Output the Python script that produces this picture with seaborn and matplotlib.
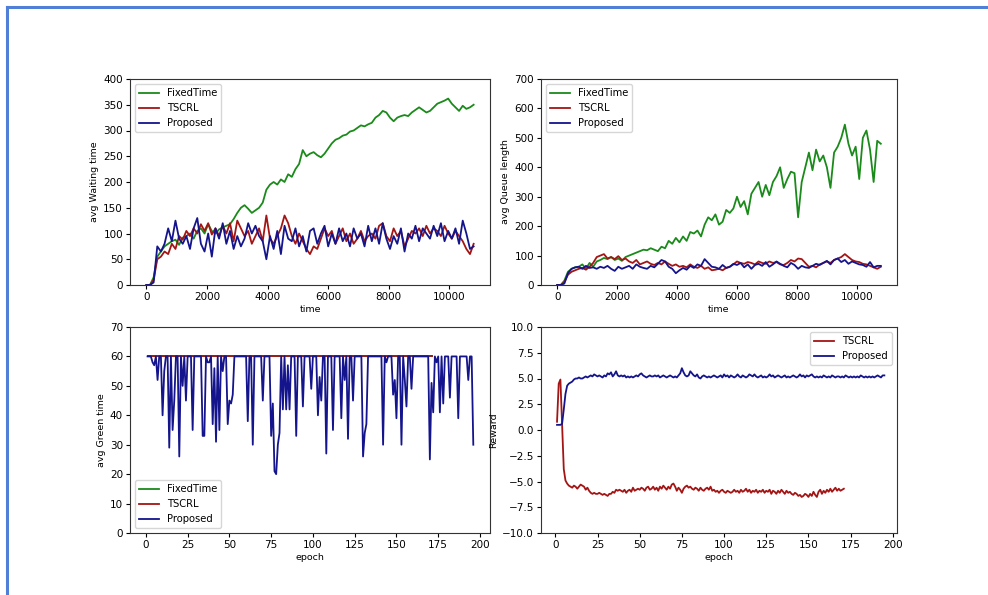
import numpy as np
import pandas as pd
import matplotlib
matplotlib.use("Agg")
import matplotlib.pyplot as plt
from matplotlib.lines import Line2D
import seaborn as sns

# ---------------- data ----------------
time_step = 120
time = np.arange(0, 10801, time_step)

wait_fixed = [0, 0, 15, 55, 65, 75, 80, 85, 88, 78,
              92, 95, 100, 90, 105, 110, 100, 118, 105, 100,
              108, 112, 115, 118, 128, 140, 150, 155, 148, 140,
              145, 150, 160, 185, 195, 200, 195, 205, 200, 215,
              210, 225, 235, 262, 250, 255, 258, 252, 248, 255,
              265, 275, 282, 285, 290, 292, 298, 300, 305, 310,
              308, 312, 315, 325, 330, 338, 335, 325, 318, 325,
              328, 330, 328, 335, 340, 345, 340, 335, 338, 345,
              352, 355, 358, 362, 352, 345, 338, 348, 342, 345, 350]
wait_tscrl = [0, 0, 10, 50, 55, 65, 60, 80, 70, 95,
              88, 105, 95, 110, 100, 118, 105, 120, 98, 110,
              95, 115, 100, 120, 85, 125, 110, 95, 105, 80,
              95, 110, 85, 135, 90, 80, 95, 110, 135, 120,
              95, 80, 100, 85, 70, 60, 75, 70, 90, 110,
              95, 105, 80, 95, 110, 85, 100, 80, 90, 105,
              85, 95, 100, 90, 115, 120, 95, 85, 110, 95,
              105, 75, 90, 105, 100, 110, 95, 115, 100, 110,
              105, 95, 115, 100, 90, 105, 95, 85, 70, 60, 80]
wait_prop = [0, 0, 5, 75, 65, 80, 110, 85, 125, 90,
             80, 95, 70, 110, 130, 80, 65, 100, 55, 110,
             90, 120, 80, 105, 70, 95, 75, 90, 120, 100,
             115, 95, 85, 50, 95, 70, 105, 60, 115, 90,
             85, 110, 75, 95, 65, 105, 110, 80, 100, 115,
             75, 100, 80, 110, 85, 100, 75, 110, 90, 100,
             75, 115, 85, 110, 80, 120, 90, 70, 95, 80,
             110, 65, 100, 90, 115, 85, 110, 100, 90, 115,
             95, 120, 85, 105, 90, 110, 80, 125, 100, 70, 75]

queue_fixed = [0, 0, 15, 45, 55, 60, 62, 70, 55, 75,
               62, 80, 85, 92, 88, 95, 85, 90, 82, 95,
               100, 105, 110, 115, 120, 118, 125, 120, 115, 130,
               125, 150, 140, 160, 145, 165, 150, 180, 175, 185,
               165, 205, 230, 220, 240, 205, 215, 255, 245, 260,
               300, 265, 285, 240, 310, 330, 350, 300, 340, 305,
               350, 370, 400, 330, 360, 385, 380, 230, 350, 400,
               450, 390, 460, 420, 440, 400, 330, 450, 470, 500,
               545, 480, 440, 470, 360, 500, 525, 460, 350, 490, 480]
queue_tscrl = [0, 0, 10, 35, 45, 50, 55, 58, 52, 62,
               75, 95, 100, 105, 90, 95, 88, 98, 85, 90,
               80, 75, 85, 70, 75, 80, 72, 68, 75, 70,
               80, 72, 65, 70, 62, 65, 60, 70, 62, 58,
               65, 55, 60, 50, 52, 55, 50, 58, 62, 70,
               80, 75, 72, 78, 75, 70, 80, 75, 72, 80,
               75, 78, 70, 68, 75, 85, 80, 90, 88, 75,
               62, 65, 60, 70, 75, 80, 75, 85, 90, 95,
               105, 95, 85, 80, 78, 72, 70, 65, 60, 55, 62]
queue_prop = [0, 0, 5, 40, 55, 60, 62, 55, 65, 58,
              60, 55, 62, 58, 65, 55, 48, 62, 55, 60,
              65, 55, 70, 62, 58, 55, 65, 60, 72, 85,
              80, 62, 55, 40, 50, 58, 52, 65, 58, 70,
              65, 88, 75, 62, 60, 55, 68, 58, 62, 72,
              68, 75, 60, 70, 55, 68, 72, 65, 78, 62,
              70, 80, 72, 65, 60, 75, 68, 55, 65, 60,
              58, 65, 72, 68, 75, 82, 70, 85, 90, 78,
              85, 72, 80, 75, 70, 68, 62, 78, 60, 65, 65]

green_prop = [60, 60, 60, 58, 57, 60, 52, 60, 60, 40,
              55, 60, 60, 29, 60, 35, 45, 60, 60, 26,
              60, 50, 60, 45, 60, 60, 60, 35, 60, 60,
              60, 60, 60, 33, 33, 60, 58, 58, 60, 37,
              56, 31, 60, 35, 60, 55, 60, 60, 37, 45,
              44, 47, 60, 60, 60, 60, 60, 60, 60, 60,
              38, 60, 60, 30, 60, 60, 60, 60, 60, 45,
              60, 60, 60, 60, 33, 44, 21, 20, 30, 34,
              60, 42, 60, 42, 57, 42, 60, 60, 60, 33,
              60, 60, 60, 43, 60, 60, 60, 60, 49, 60,
              60, 60, 40, 53, 45, 60, 60, 27, 60, 60,
              60, 35, 60, 60, 60, 60, 39, 60, 52, 60,
              32, 60, 60, 45, 60, 60, 60, 60, 60, 26,
              34, 37, 60, 60, 60, 60, 60, 60, 60, 60,
              60, 30, 60, 58, 60, 60, 60, 47, 52, 39,
              60, 60, 30, 60, 52, 43, 60, 60, 49, 60,
              60, 60, 60, 60, 60, 60, 60, 60, 60, 25,
              51, 41, 60, 58, 60, 41, 60, 44, 60, 60,
              60, 46, 60, 60, 60, 60, 39, 60, 60, 60,
              60, 60, 52, 60, 60, 30]
green_tscrl = [60.0] * 171
green_fixed = [60.0] * 171

reward_tscrl = [0.8, 4.5, 4.9, 0.5, -3.8, -4.9, -5.2, -5.4, -5.5, -5.6,
                -5.4, -5.5, -5.7, -5.5, -5.3, -5.4, -5.5, -5.8, -5.6, -5.9,
                -6.1, -6.2, -6.1, -6.2, -6.2, -6.1, -6.2, -6.3, -6.2, -6.3,
                -6.4, -6.2, -6.2, -6.0, -6.1, -5.8, -5.9, -5.8, -5.9, -6.0,
                -5.8, -6.1, -5.9, -5.8, -6.0, -5.6, -5.9, -5.8, -5.7, -5.8,
                -5.6, -5.7, -5.9, -5.6, -5.5, -5.8, -5.7, -5.5, -5.8, -5.6,
                -5.9, -5.5, -5.7, -5.4, -5.6, -5.8, -5.5, -5.7, -5.3, -5.2,
                -5.5, -5.9, -5.6, -5.8, -6.1, -5.7, -5.5, -5.4, -5.6, -5.5,
                -5.7, -5.8, -5.6, -5.7, -5.9, -5.6, -5.8, -5.9, -5.7, -5.6,
                -5.8, -5.5, -5.9, -5.8, -6.0, -5.9, -6.1, -5.9, -5.8, -6.0,
                -6.1, -5.9, -6.0, -6.1, -6.0, -5.8, -6.0, -5.9, -6.1, -5.8,
                -6.0, -5.9, -5.7, -6.0, -5.8, -6.1, -5.9, -6.0, -5.8, -6.1,
                -5.9, -6.0, -5.8, -6.1, -5.9, -6.0, -5.8, -6.2, -5.9, -6.0,
                -6.2, -5.9, -6.1, -5.8, -6.0, -6.2, -5.9, -6.1, -6.0, -6.2,
                -6.3, -6.1, -6.2, -6.4, -6.3, -6.5, -6.4, -6.2, -6.3, -6.5,
                -6.2, -6.4, -6.0, -6.3, -6.5, -6.0, -5.8, -6.2, -5.9, -6.1,
                -5.8, -6.0, -5.7, -6.0, -5.8, -5.6, -5.9, -5.7, -5.9, -5.8,
                -5.7]
reward_prop = [0.5, 0.5, 0.5, 0.6, 2.0, 3.5, 4.3, 4.5, 4.6, 4.7,
               4.9, 5.0, 5.0, 5.1, 5.0, 5.0, 5.1, 5.2, 5.1, 5.2,
               5.3, 5.2, 5.4, 5.3, 5.2, 5.3, 5.2, 5.1, 5.3, 5.2,
               5.5, 5.4, 5.6, 5.2, 5.4, 5.7, 5.3, 5.2, 5.3, 5.2,
               5.3, 5.1, 5.2, 5.1, 5.2, 5.1, 5.2, 5.3, 5.2, 5.4,
               5.5, 5.3, 5.2, 5.1, 5.2, 5.3, 5.2, 5.2, 5.3, 5.2,
               5.3, 5.1, 5.2, 5.3, 5.2, 5.1, 5.2, 5.3, 5.2, 5.1,
               5.2, 5.1, 5.3, 5.5, 6.0, 5.6, 5.3, 5.2, 5.3, 5.7,
               5.5, 5.3, 5.2, 5.4, 5.1, 5.0, 5.2, 5.3, 5.2, 5.1,
               5.2, 5.1, 5.2, 5.3, 5.2, 5.1, 5.2, 5.3, 5.1, 5.4,
               5.2, 5.3, 5.1, 5.3, 5.2, 5.1, 5.2, 5.4, 5.2, 5.1,
               5.3, 5.2, 5.1, 5.2, 5.4, 5.3, 5.2, 5.4, 5.2, 5.1,
               5.2, 5.3, 5.1, 5.2, 5.1, 5.2, 5.4, 5.2, 5.3, 5.1,
               5.2, 5.3, 5.2, 5.1, 5.2, 5.3, 5.1, 5.2, 5.1, 5.2,
               5.3, 5.2, 5.1, 5.2, 5.4, 5.2, 5.3, 5.1, 5.3, 5.2,
               5.3, 5.4, 5.2, 5.1, 5.2, 5.1, 5.2, 5.1, 5.3, 5.2,
               5.1, 5.2, 5.1, 5.3, 5.2, 5.1, 5.2, 5.2, 5.1, 5.2,
               5.1, 5.3, 5.2, 5.1, 5.2, 5.1, 5.2, 5.1, 5.2, 5.1,
               5.3, 5.2, 5.1, 5.2, 5.1, 5.2, 5.1, 5.2, 5.1, 5.2,
               5.3, 5.2, 5.1, 5.3, 5.3]

labels = ["FixedTime", "TSCRL", "Proposed"]
colors = {"FixedTime": "#1a8a1a", "TSCRL": "#a31515", "Proposed": "#14148c"}

# ---------------- figure ----------------
plt.rcParams['font.family'] = ['DejaVu Sans']
fig = plt.figure(figsize=(9.88, 5.95), dpi=100)
W, H = 988, 595

def axes_px(x0, y0, x1, y1):
    return fig.add_axes([x0 / W, 1 - y1 / H, (x1 - x0) / W, (y1 - y0) / H])

ax_tl = axes_px(130, 79, 490, 285)
ax_tr = axes_px(541, 79, 897, 285)
ax_bl = axes_px(130, 327, 490, 533)
ax_br = axes_px(541, 327, 897, 533)

LW = 1.3
TICK_FS = 7.5
LAB_FS = 6.8
LEG_FS = 7.2

def draw(ax, x, series, names):
    for vals, name in zip(series, names):
        n = len(vals)
        sns.lineplot(x=np.asarray(x)[:n], y=vals, ax=ax, color=colors[name],
                     label=name, linewidth=LW)

draw(ax_tl, time, [wait_fixed, wait_tscrl, wait_prop], labels)
draw(ax_tr, time, [queue_fixed, queue_tscrl, queue_prop], labels)

ep_fixed = np.arange(1, len(green_fixed) + 1)
ep_tscrl = np.arange(1, len(green_tscrl) + 1)
ep_prop = np.arange(1, len(green_prop) + 1)
sns.lineplot(x=ep_fixed, y=green_fixed, ax=ax_bl, color=colors["FixedTime"], label="FixedTime", linewidth=LW)
sns.lineplot(x=ep_tscrl, y=green_tscrl, ax=ax_bl, color=colors["TSCRL"], label="TSCRL", linewidth=LW)
sns.lineplot(x=ep_prop, y=green_prop, ax=ax_bl, color=colors["Proposed"], label="Proposed", linewidth=LW)

sns.lineplot(x=np.arange(1, len(reward_tscrl) + 1), y=reward_tscrl, ax=ax_br,
             color=colors["TSCRL"], label="TSCRL", linewidth=LW)
sns.lineplot(x=np.arange(1, len(reward_prop) + 1), y=reward_prop, ax=ax_br,
             color=colors["Proposed"], label="Proposed", linewidth=LW)

ax_tl.set_ylim(0, 400)
ax_tl.set_yticks(np.arange(0, 401, 50))
ax_tl.set_xticks(np.arange(0, 10001, 2000))
ax_tl.set_xlabel("time", fontsize=LAB_FS, labelpad=2)
ax_tl.set_ylabel("avg Waiting time", fontsize=LAB_FS, labelpad=3)
ax_tl.legend(loc="upper left", fontsize=LEG_FS)

ax_tr.set_ylim(0, 700)
ax_tr.set_yticks(np.arange(0, 701, 100))
ax_tr.set_xticks(np.arange(0, 10001, 2000))
ax_tr.set_xlabel("time", fontsize=LAB_FS, labelpad=2)
ax_tr.set_ylabel("avg Queue length", fontsize=LAB_FS, labelpad=3)
ax_tr.legend(loc="upper left", fontsize=LEG_FS)

ax_bl.set_ylim(0, 70)
ax_bl.set_xlim(-9.5, 206)
ax_bl.set_yticks(np.arange(0, 71, 10))
ax_bl.set_xticks(np.arange(0, 201, 25))
ax_bl.set_xlabel("epoch", fontsize=LAB_FS, labelpad=2)
ax_bl.set_ylabel("avg Green time", fontsize=LAB_FS, labelpad=3)
ax_bl.legend(loc="lower left", fontsize=LEG_FS)

ax_br.set_ylim(-10, 10)
ax_br.set_xlim(-8.5, 202.5)
ax_br.set_yticks(np.arange(-10, 10.01, 2.5))
ax_br.set_xticks(np.arange(0, 201, 25))
ax_br.set_xlabel("epoch", fontsize=LAB_FS, labelpad=2)
ax_br.set_ylabel("Reward", fontsize=LAB_FS, labelpad=3)
ax_br.legend(loc="upper right", fontsize=LEG_FS)

for ax in (ax_tl, ax_tr, ax_bl, ax_br):
    ax.tick_params(labelsize=TICK_FS, length=3, pad=2)
    for s in ax.spines.values():
        s.set_linewidth(0.8)
        s.set_color("#333333")

# page frame (blue border at top and left)
fig.add_artist(Line2D([7 / W, 1.0], [1 - 6.5 / H, 1 - 6.5 / H], color="#4f7fd6", linewidth=2.2,
                      transform=fig.transFigure))
fig.add_artist(Line2D([7 / W, 7 / W], [0.0, 1 - 6.5 / H], color="#4f7fd6", linewidth=2.2,
                      transform=fig.transFigure))

fig.savefig("out.png", dpi=100)
